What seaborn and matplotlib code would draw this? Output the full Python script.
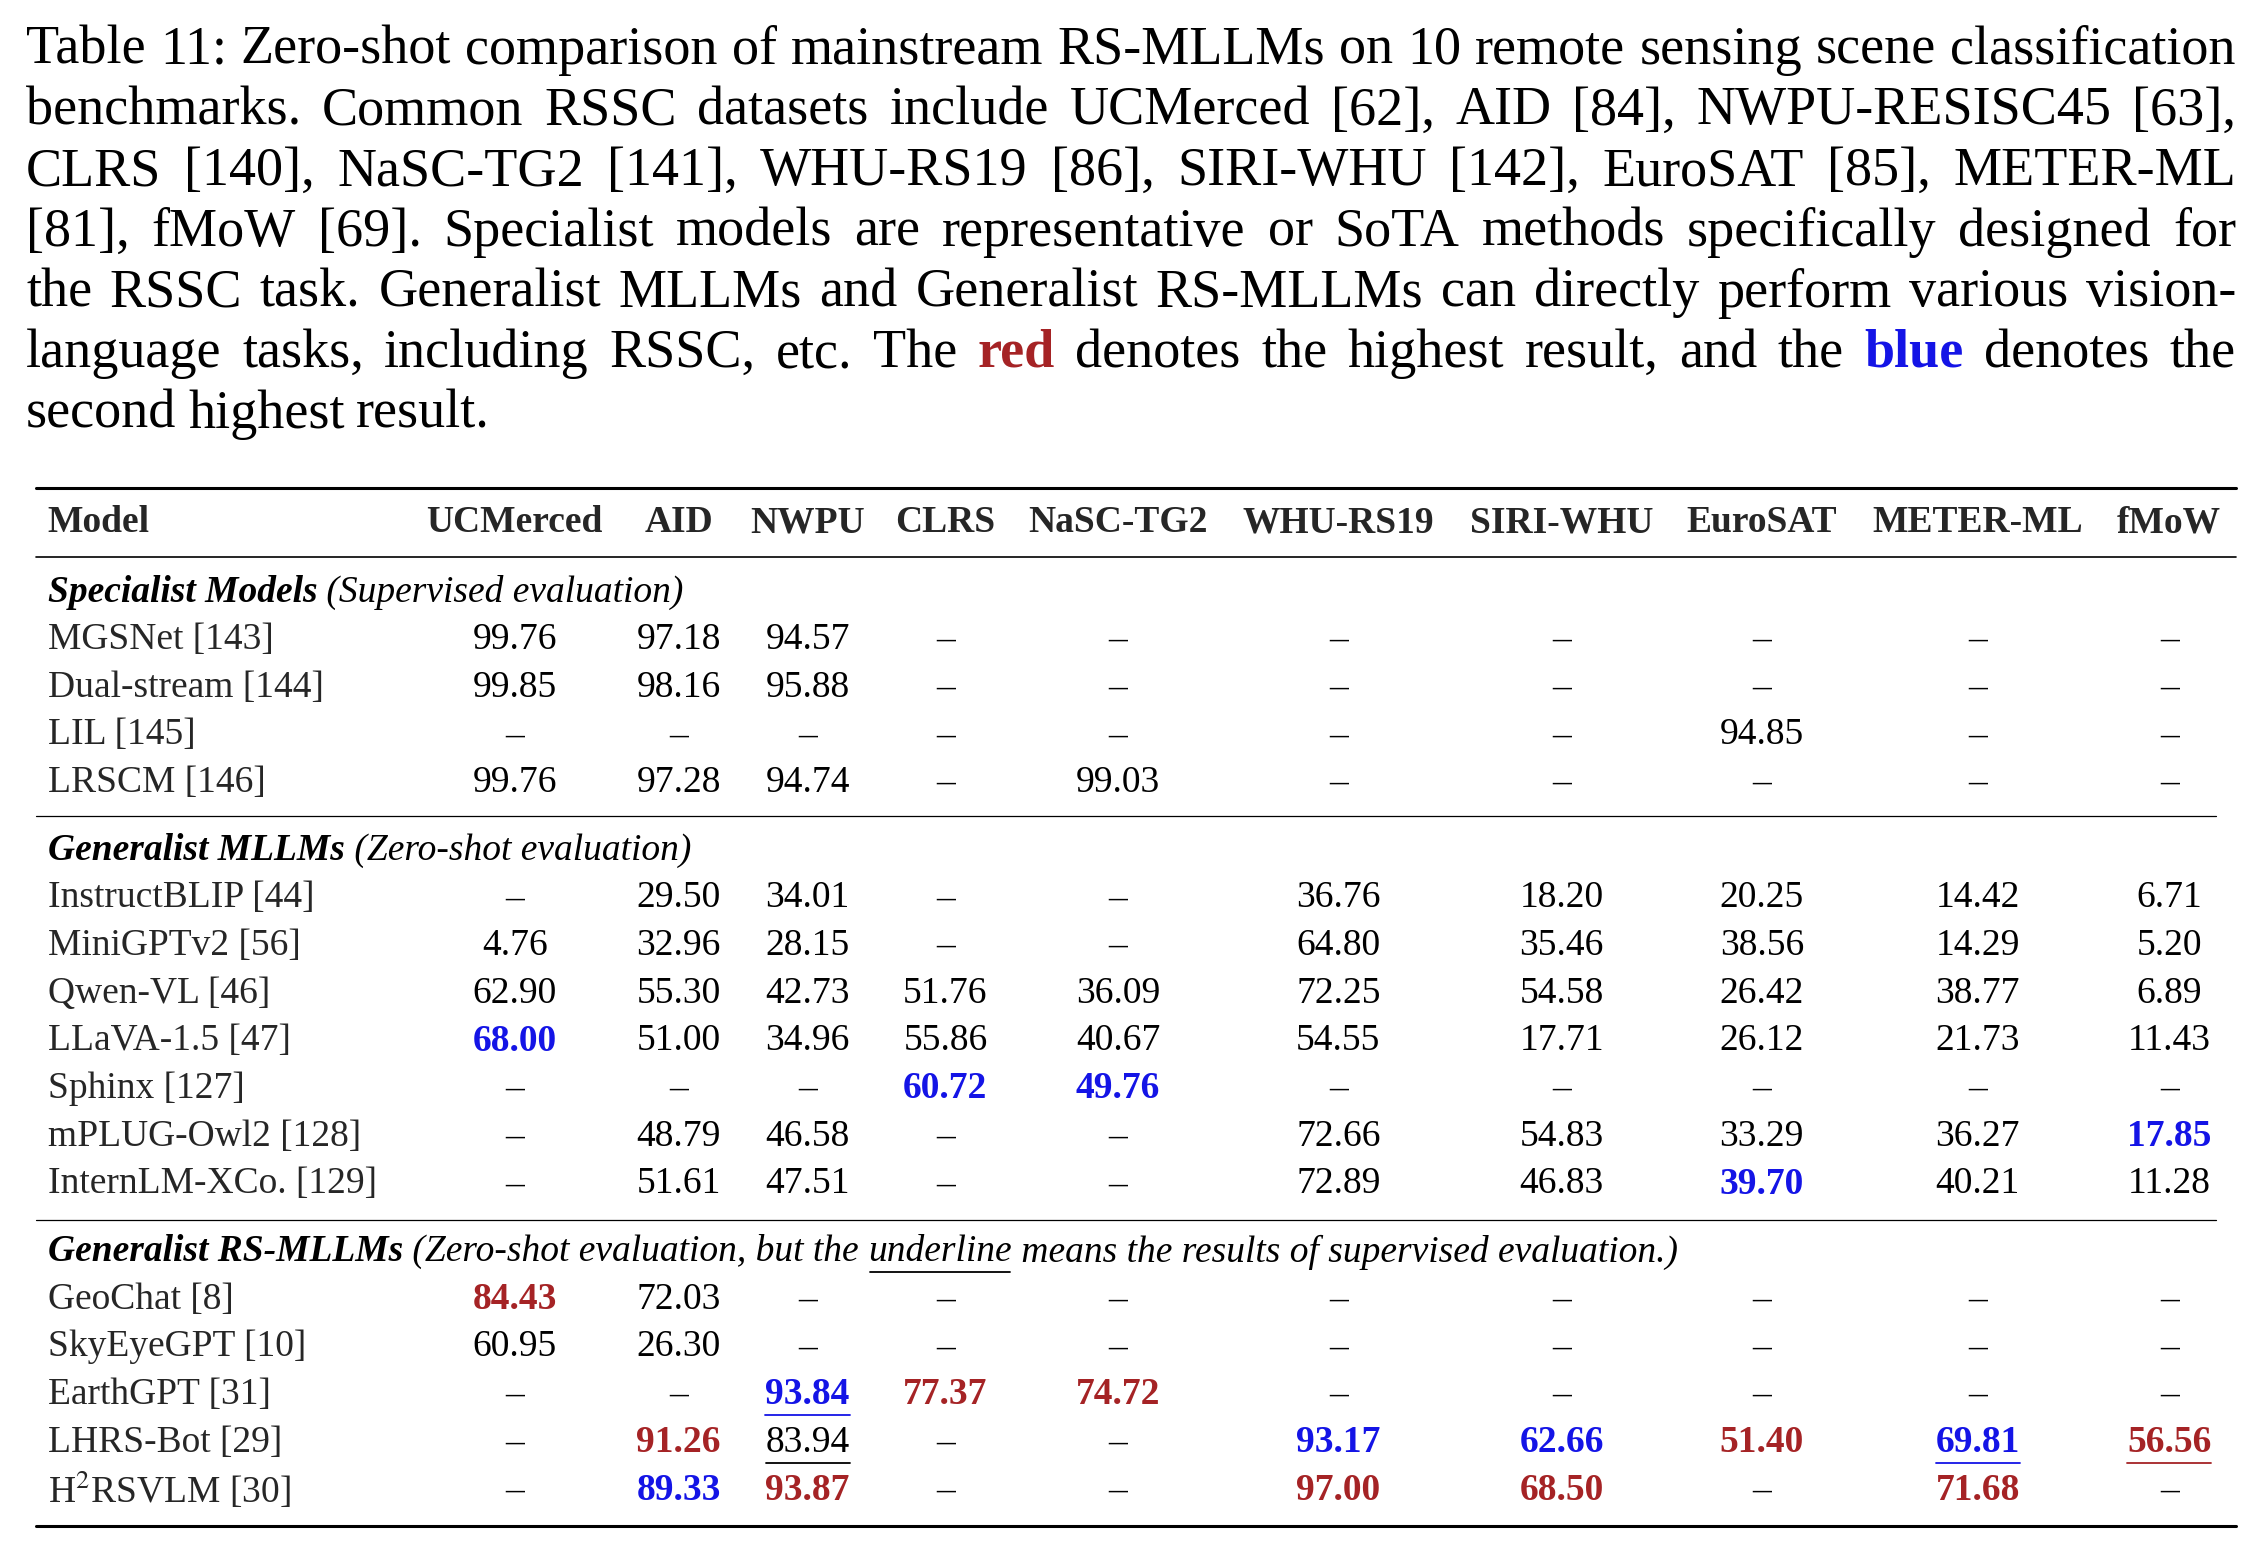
import matplotlib
matplotlib.use("Agg")
import matplotlib.pyplot as plt
import seaborn as sns

sns.set_theme(style="white")
plt.rcParams['font.family'] = ['Liberation Serif', 'DejaVu Serif']
plt.rcParams['mathtext.fontset'] = 'stix'

RED = '#a52325'
BLUE = '#1414e6'

caption_lines = [
    "Table 11:  Zero-shot comparison of mainstream RS-MLLMs on 10 remote sensing scene classification",
    "benchmarks. Common RSSC datasets include UCMerced [62], AID [84], NWPU-RESISC45 [63],",
    "CLRS [140], NaSC-TG2 [141], WHU-RS19 [86], SIRI-WHU [142], EuroSAT [85], METER-ML",
    "[81], fMoW [69]. Specialist models are representative or SoTA methods specifically designed for",
    "the RSSC task. Generalist MLLMs and Generalist RS-MLLMs can directly perform various vision-",
    "language tasks, including RSSC, etc. The red denotes the highest result, and the blue denotes the",
    "second highest result.",
]

columns = ["Model", "UCMerced", "AID", "NWPU", "CLRS", "NaSC-TG2", "WHU-RS19",
           "SIRI-WHU", "EuroSAT", "METER-ML", "fMoW"]

sections = [
    [("Specialist Models", "bi"), (" (Supervised evaluation)", "i")],
    [("Generalist MLLMs", "bi"), (" (Zero-shot evaluation)", "i")],
    [("Generalist RS-MLLMs", "bi"), (" (Zero-shot evaluation, but the ", "i"),
     ("underline", "iu"), (" means the results of supervised evaluation.)", "i")],
]

models = [
    ["MGSNet [143]", "Dual-stream [144]", "LIL [145]", "LRSCM [146]"],
    ["InstructBLIP [44]", "MiniGPTv2 [56]", "Qwen-VL [46]", "LLaVA-1.5 [47]",
     "Sphinx [127]", "mPLUG-Owl2 [128]", "InternLM-XCo. [129]"],
    ["GeoChat [8]", "SkyEyeGPT [10]", "EarthGPT [31]", "LHRS-Bot [29]", r"H$^2$RSVLM [30]"],
]

D = "–"
values = [
    [["99.76", "97.18", "94.57", D, D, D, D, D, D, D],
     ["99.85", "98.16", "95.88", D, D, D, D, D, D, D],
     [D, D, D, D, D, D, D, "94.85", D, D],
     ["99.76", "97.28", "94.74", D, "99.03", D, D, D, D, D]],
    [[D, "29.50", "34.01", D, D, "36.76", "18.20", "20.25", "14.42", "6.71"],
     ["4.76", "32.96", "28.15", D, D, "64.80", "35.46", "38.56", "14.29", "5.20"],
     ["62.90", "55.30", "42.73", "51.76", "36.09", "72.25", "54.58", "26.42", "38.77", "6.89"],
     ["68.00", "51.00", "34.96", "55.86", "40.67", "54.55", "17.71", "26.12", "21.73", "11.43"],
     [D, D, D, "60.72", "49.76", D, D, D, D, D],
     [D, "48.79", "46.58", D, D, "72.66", "54.83", "33.29", "36.27", "17.85"],
     [D, "51.61", "47.51", D, D, "72.89", "46.83", "39.70", "40.21", "11.28"]],
    [["84.43", "72.03", D, D, D, D, D, D, D, D],
     ["60.95", "26.30", D, D, D, D, D, D, D, D],
     [D, D, "93.84", "77.37", "74.72", D, D, D, D, D],
     [D, "91.26", "83.94", D, D, "93.17", "62.66", "51.40", "69.81", "56.56"],
     [D, "89.33", "93.87", D, D, "97.00", "68.50", D, "71.68", D]],
]

# highlight codes: r = best, b = second, u = underlined (supervised)
marks = [
    [[""] * 10] * 4,
    [[""] * 10, [""] * 10, [""] * 10,
     ["b"] + [""] * 9,
     ["", "", "", "b", "b", "", "", "", "", ""],
     [""] * 9 + ["b"],
     [""] * 7 + ["b", "", ""]],
    [["r"] + [""] * 9,
     [""] * 10,
     ["", "", "bu", "r", "r", "", "", "", "", ""],
     ["", "r", "u", "", "", "b", "b", "r", "bu", "ru"],
     ["", "b", "r", "", "", "r", "r", "", "r", ""]],
]

W, H = 1560, 1070
fig = plt.figure(figsize=(22.62, 15.45), dpi=100)
ax = fig.add_axes([0, 0, 1, 1])
ax.set_xlim(0, W)
ax.set_ylim(H, 0)
ax.axis('off')
renderer = fig.canvas.get_renderer()
px = W / 2262.0


def width_of(t):
    return t.get_window_extent(renderer).width * px


def runs(x, y, parts, size, color='black'):
    for txt, st in parts:
        t = ax.text(x, y, txt, fontsize=size, va='center', ha='left', color=color,
                    fontweight='bold' if 'b' in st else 'normal',
                    fontstyle='italic' if 'i' in st else 'normal')
        w = width_of(t)
        if 'u' in st:
            ax.plot([x + 1, x + w - 1], [y + 14, y + 14], color=color, lw=1.3)
        x += w
    return x


# caption, justified word by word
CAP = 39
x0, x1 = 18, 1542
for i, line in enumerate(caption_lines):
    y = 35 + 42 * i
    words = [w for w in line.split(" ") if w != ""]
    objs = []
    for w in words:
        col, wt = 'black', 'normal'
        if w == "red" and i == 5:
            col, wt = RED, 'bold'
        if w == "blue" and i == 5:
            col, wt = BLUE, 'bold'
        objs.append(ax.text(0, y, w, fontsize=CAP, va='center', ha='left', color=col, fontweight=wt))
    widths = [width_of(o) for o in objs]
    if i < len(caption_lines) - 1:
        gap = (x1 - x0 - sum(widths)) / (len(objs) - 1)
    else:
        gap = 8
    x = x0
    for o, w in zip(objs, widths):
        o.set_x(x)
        x += w + gap

# table
FS = 27
col_x = [33, 355, 468, 557, 652, 771, 923, 1077, 1215, 1364, 1496]
ax.plot([25, 1542], [338, 338], color='black', lw=2.2)
ax.plot([25, 1542], [386, 386], color='black', lw=1.2)
ax.plot([25, 1528], [565, 565], color='black', lw=0.9)
ax.plot([25, 1528], [845, 845], color='black', lw=0.9)
ax.plot([25, 1542], [1057, 1057], color='black', lw=2.2)

for j, c in enumerate(columns):
    ax.text(col_x[j], 362, c, fontsize=FS, fontweight='bold', va='center',
            ha='left' if j == 0 else 'center')

sec_y = [410, 589, 867]
for s in range(3):
    runs(33, sec_y[s], sections[s], FS)
    for r, name in enumerate(models[s]):
        y = sec_y[s] + 33 * (r + 1)
        ax.text(33, y, name, fontsize=FS, va='center', ha='left')
        for j, v in enumerate(values[s][r]):
            m = marks[s][r][j]
            col = RED if 'r' in m else BLUE if 'b' in m else 'black'
            t = ax.text(col_x[j + 1], y, v, fontsize=FS, va='center', ha='center', color=col,
                        fontweight='bold' if ('r' in m or 'b' in m) else 'normal')
            if 'u' in m:
                w = width_of(t)
                ax.plot([col_x[j + 1] - w / 2, col_x[j + 1] + w / 2], [y + 14, y + 14],
                        color=col, lw=1.3)

fig.savefig("out.png", dpi=100)
